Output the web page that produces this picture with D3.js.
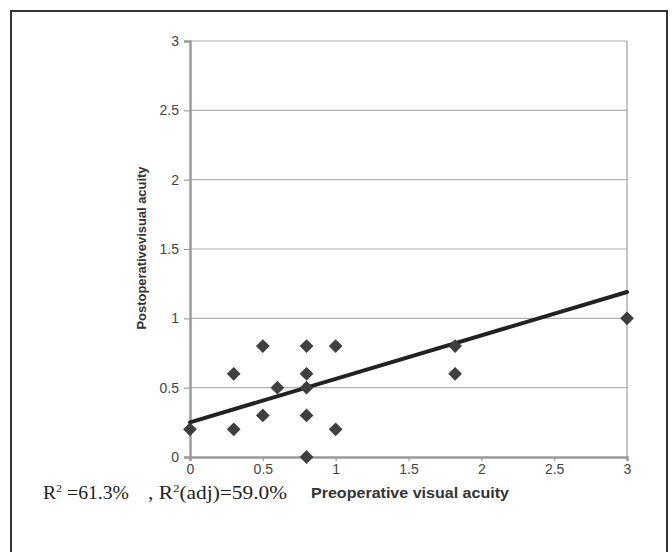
<!DOCTYPE html>
<html>
<head>
<meta charset="utf-8">
<script src="https://cdn.jsdelivr.net/npm/d3@7"></script>
<style>
  html, body { margin: 0; padding: 0; background: #fff; }
  svg { display: block; }
</style>
</head>
<body>
<svg id="chart" width="672" height="552"></svg>
<script>
// ---- data ----
const preop  = [0, 0.3, 0.3, 0.5, 0.5, 0.6, 0.8, 0.8, 0.8, 0.8, 0.8, 1, 1, 1.82, 1.82, 3];
const postop = [0.2, 0.6, 0.2, 0.8, 0.3, 0.5, 0.8, 0.6, 0.5, 0.3, 0, 0.8, 0.2, 0.8, 0.6, 1];
const trendX = [0, 3];
const trendY = [0.25, 1.19];
const xTicks = [0, 0.5, 1, 1.5, 2, 2.5, 3];
const yTicks = [0, 0.5, 1, 1.5, 2, 2.5, 3];
const xTitle = "Preoperative visual acuity";
const yTitle = "Postoperativevisual acuity";

const svg = d3.select("#chart");
const x = d3.scaleLinear().domain([0, 3]).range([190, 627]);
const y = d3.scaleLinear().domain([0, 3]).range([457, 41]);

// outer frame
svg.append("rect").attr("x", 11).attr("y", 11).attr("width", 656).attr("height", 545)
  .attr("fill", "none").attr("stroke", "#333").attr("stroke-width", 2);

// gridlines
svg.append("g").selectAll("line").data(yTicks.filter(d => d > 0)).join("line")
  .attr("x1", x(0)).attr("x2", x(3)).attr("y1", d => y(d)).attr("y2", d => y(d))
  .attr("stroke", "#b0b0b0").attr("stroke-width", 1.2);
// right plot border
svg.append("line").attr("x1", x(3)).attr("x2", x(3)).attr("y1", y(3)).attr("y2", y(0))
  .attr("stroke", "#b0b0b0").attr("stroke-width", 1.5);

// axes
const xAxis = d3.axisBottom(x).tickValues(xTicks).tickSize(4).tickPadding(3)
  .tickFormat(d3.format("~g"));
const yAxis = d3.axisLeft(y).tickValues(yTicks).tickSize(6).tickPadding(5)
  .tickFormat(d3.format("~g"));

const gx = svg.append("g").attr("transform", `translate(0,${y(0)})`).call(xAxis);
const gy = svg.append("g").attr("transform", `translate(${x(0)},0)`).call(yAxis);
[gx, gy].forEach(g => {
  g.select(".domain").attr("stroke", "#9a9a9a").attr("stroke-width", 2.5);
  g.selectAll(".tick line").attr("stroke", "#9a9a9a").attr("stroke-width", 1.2);
  g.selectAll(".tick text").attr("fill", "#444")
    .style("font-family", "'Liberation Sans', Arial, sans-serif").style("font-size", "14px");
});

// trend line
svg.append("line")
  .attr("x1", x(trendX[0])).attr("y1", y(trendY[0]))
  .attr("x2", x(trendX[1])).attr("y2", y(trendY[1]))
  .attr("stroke", "#222").attr("stroke-width", 4).attr("stroke-linecap", "round");

// points
const sym = d3.symbol().type(d3.symbolSquare).size(95);
svg.append("g").selectAll("path").data(preop.map((v, i) => [v, postop[i]])).join("path")
  .attr("d", sym)
  .attr("transform", d => `translate(${x(d[0])},${y(d[1])}) rotate(45)`)
  .attr("fill", "#3f3f3f");

// y title
svg.append("text")
  .attr("transform", `translate(146,248) rotate(-90)`)
  .attr("text-anchor", "middle")
  .attr("textLength", 163).attr("lengthAdjust", "spacingAndGlyphs")
  .style("font-family", "'Liberation Sans', Arial, sans-serif")
  .style("font-size", "13px").style("font-weight", "bold").attr("fill", "#333")
  .text(yTitle);

// x title
svg.append("text")
  .attr("x", 311).attr("y", 498)
  .attr("textLength", 198).attr("lengthAdjust", "spacingAndGlyphs")
  .style("font-family", "'Liberation Sans', Arial, sans-serif")
  .style("font-size", "14px").style("font-weight", "bold").attr("fill", "#333")
  .text(xTitle);

// R^2 text (two parts)
const serif = "'Liberation Serif', 'Times New Roman', serif";
const r1 = svg.append("text").attr("x", 43).attr("y", 499)
  .attr("textLength", 86).attr("lengthAdjust", "spacingAndGlyphs")
  .style("font-family", serif).style("font-size", "18px").attr("fill", "#222");
r1.append("tspan").text("R");
r1.append("tspan").attr("dy", -7).style("font-size", "11px").text("2");
r1.append("tspan").attr("dy", 7).text("\u00a0=61.3%");

const r2 = svg.append("text").attr("x", 148).attr("y", 499)
  .attr("textLength", 139).attr("lengthAdjust", "spacingAndGlyphs")
  .style("font-family", serif).style("font-size", "18px").attr("fill", "#222");
r2.append("tspan").text(",\u00a0R");
r2.append("tspan").attr("dy", -7).style("font-size", "11px").text("2");
r2.append("tspan").attr("dy", 7).text("(adj)=59.0%");
</script>
</body>
</html>
